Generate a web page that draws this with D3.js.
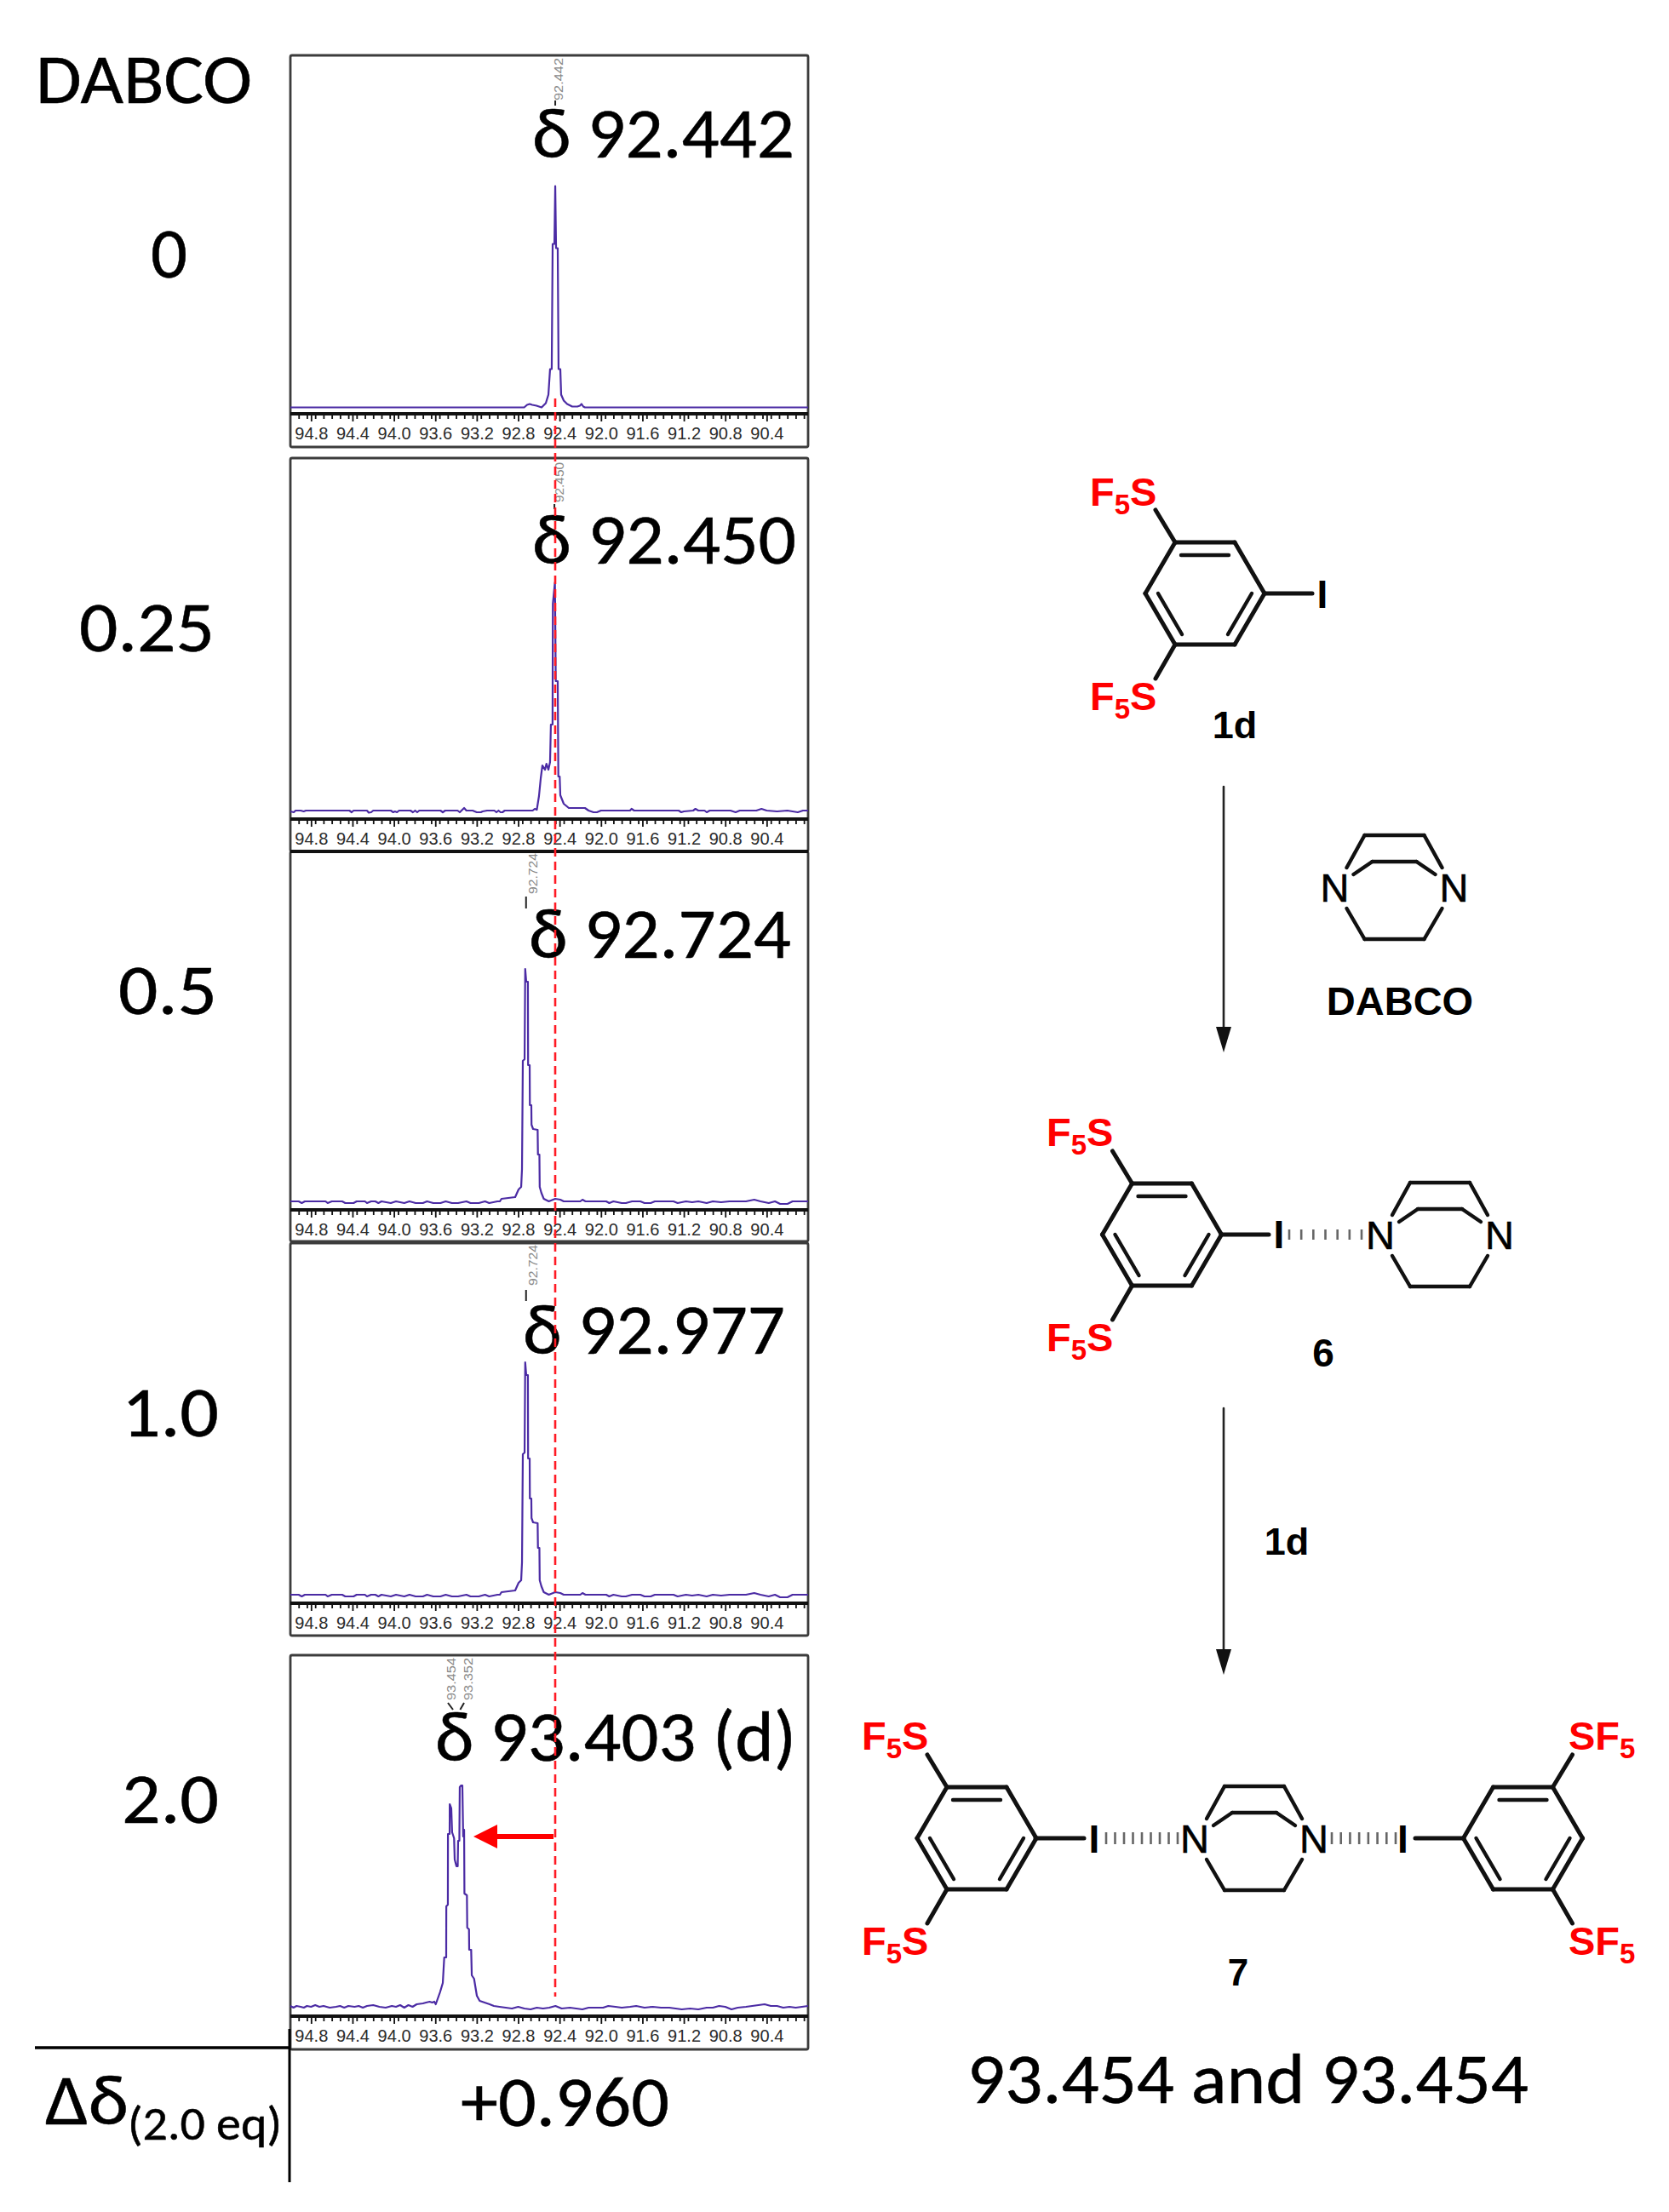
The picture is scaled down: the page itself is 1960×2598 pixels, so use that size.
<!DOCTYPE html>
<html><head><meta charset="utf-8">
<script src="https://cdn.jsdelivr.net/npm/d3@7"></script>
<style>html,body{margin:0;background:#fff}svg{display:block}</style></head>
<body><svg id="c" width="1960" height="2598"></svg>
<script>
// ---------- data: [ppm, intensity] ----------
const spectrum0 = [[95,0],[92.742,0],[92.714,3],[92.689,4],[92.664,3],[92.623,2],[92.574,0],[92.533,5],[92.508,15],[92.492,45],[92.476,45],[92.467,192],[92.450,192],[92.442,260],[92.434,187],[92.418,187],[92.410,45],[92.393,45],[92.385,15],[92.360,8],[92.327,4],[92.278,1],[92.229,1],[92.204,2],[92.188,4],[92.171,1],[92.155,0],[90,0]];
const spectrum025 = [[95,-1],[94.967,-2],[94.95,0],[94.9,0],[94.871,-1],[94.85,0],[94.43,0],[94.408,-2],[94.39,0],[94.26,0],[94.243,-2.5],[94.22,-2],[94.2,0],[94.03,0],[94.007,-2],[93.99,-1],[93.97,-2],[93.95,0],[93.84,0],[93.816,-2],[93.795,0],[93.775,-2],[93.755,0],[93.55,0],[93.528,-2],[93.505,0],[93.385,0],[93.364,-2],[93.322,3],[93.30,0],[93.24,0],[93.2,-2],[93.16,-2],[93.144,-1],[93.1,0],[93.03,0],[93.01,-2],[92.99,0],[92.97,-2],[92.952,-2],[92.93,0],[92.66,0],[92.64,2],[92.62,1],[92.599,17],[92.582,38],[92.566,53],[92.541,48],[92.527,55],[92.508,48],[92.492,57],[92.484,101],[92.468,101],[92.465,243],[92.445,268],[92.437,152],[92.418,152],[92.412,40],[92.399,40],[92.393,18],[92.360,8],[92.311,3],[92.155,3],[92.12,0],[92.072,-2],[92.04,-2],[92.0,0],[91.72,0],[91.705,2],[91.68,0],[91.25,0],[91.225,-2],[91.2,-1],[91.11,0],[91.088,2],[91.06,0],[91.0,0],[90.979,-2],[90.95,0],[90.75,0],[90.7,-2],[90.66,0],[90.5,0],[90.45,2],[90.4,0],[90.3,-1],[90.2,0],[90.1,-2],[90.05,0],[90,0]];
const spectrum05 = [[95,0],[94.92,0],[94.89,-2],[94.86,0],[94.66,0],[94.64,-2],[94.6,0],[94.5,0],[94.47,-2],[94.39,-2],[94.36,0],[94.28,0],[94.26,-2],[94.22,0],[94.18,0],[94.15,-2],[94.12,0],[94.03,-2],[93.98,0],[93.9,-2],[93.85,0],[93.79,-2],[93.72,-2],[93.68,0],[93.62,-2],[93.55,-2],[93.5,0],[93.44,-2],[93.38,-2],[93.3,0],[93.26,-2],[93.18,-2],[93.12,0],[93.08,-2],[93.0,0],[92.977,0],[92.961,3],[92.829,5],[92.796,14],[92.771,17],[92.763,38],[92.755,165],[92.738,167],[92.732,273],[92.722,258],[92.706,258],[92.704,160],[92.689,160],[92.687,113],[92.673,113],[92.671,90],[92.656,85],[92.612,84],[92.609,55],[92.595,55],[92.592,17],[92.576,10],[92.553,3],[92.504,0],[92.442,3],[92.393,2],[92.360,0],[92.2,0],[92.179,2],[92.15,0],[91.95,0],[91.92,-2],[91.88,0],[91.8,-2],[91.76,-2],[91.7,0],[91.62,0],[91.58,-2],[91.52,-2],[91.48,0],[91.3,0],[91.26,-2],[91.18,0],[91.12,-1],[91.06,0],[90.98,-2],[90.92,0],[90.84,-1],[90.76,0],[90.6,0],[90.52,2],[90.46,0],[90.38,-2],[90.32,0],[90.27,-3],[90.2,-3],[90.15,0],[90,0]];
const spectrum10 = spectrum05;
const spectrum20 = [[95,1],[94.97,-1],[94.94,1],[94.9,0],[94.87,-1],[94.84,1],[94.8,0],[94.76,2],[94.72,0],[94.68,1],[94.62,-1],[94.56,0],[94.52,1],[94.48,-1],[94.44,1],[94.38,0],[94.34,1],[94.3,-1],[94.26,1],[94.2,2],[94.14,0],[94.08,-1],[94.02,1],[93.98,0],[93.94,2],[93.9,-1],[93.86,2],[93.82,0],[93.78,3],[93.72,4],[93.69,5],[93.655,6],[93.63,5],[93.61,6],[93.596,3],[93.555,17],[93.528,28],[93.514,58],[93.495,58],[93.494,118],[93.479,120],[93.478,203],[93.462,203],[93.461,238],[93.446,233],[93.438,205],[93.419,198],[93.413,173],[93.396,165],[93.384,165],[93.380,195],[93.368,195],[93.364,258],[93.351,260],[93.339,260],[93.331,200],[93.322,208],[93.319,133],[93.295,131],[93.292,93],[93.275,91],[93.273,67],[93.254,67],[93.248,37],[93.226,33],[93.199,13],[93.172,7],[93.076,3],[93.035,1],[92.98,0],[92.92,-1],[92.86,-2],[92.8,0],[92.74,-2],[92.68,-3],[92.62,-1],[92.56,-2],[92.5,-1],[92.44,1],[92.38,-2],[92.3,-1],[92.24,-2],[92.18,-3],[92.12,-1],[92.05,-1],[91.98,-1],[91.93,1],[91.86,0],[91.8,-1],[91.72,0],[91.66,1],[91.58,-1],[91.5,0],[91.42,-1],[91.34,-1],[91.28,-2],[91.22,-3],[91.14,-2],[91.06,-3],[90.98,-1],[90.92,-1],[90.86,1],[90.8,0],[90.74,-3],[90.68,-1],[90.6,0],[90.54,1],[90.48,2],[90.42,3],[90.36,1],[90.3,1],[90.24,-1],[90.18,0],[90.12,-1],[90.06,0],[90,1]];
const spectra = [spectrum0, spectrum025, spectrum05, spectrum10, spectrum20];

const axisLabels = [94.8,94.4,94.0,93.6,93.2,92.8,92.4,92.0,91.6,91.2,90.8,90.4];
const minorTicks = d3.range(0,62).map(i=>+(94.92-i*0.08).toFixed(2));
const equivalents = ["0","0.25","0.5","1.0","2.0"];
const shiftLabels = ["δ 92.442","δ 92.450","δ 92.724","δ 92.977","δ 93.403 (d)"];
const pickedPeaks = [[92.442],[92.450],[92.724],[92.724],[93.454,93.352]];
const domainPpm = [95,90];

// ---------- layout ----------
const P = [
 {top:65,bottom:525,axis:486,base:478.5,eq:[180,217,326],lab:[628,930,185],pickY:[118,124],pickLab:[656],pickTop:68,ln:50},
 {top:538,bottom:1000,axis:962,base:952,eq:[96,249,765],lab:[628,932,662],pickY:[592,598],pickLab:[657],pickTop:543,ln:47},
 {top:1000,bottom:1458,axis:1421,base:1411,eq:[142,252,1191],lab:[624,926,1125],pickY:[1053,1067],pickLab:[626],pickTop:1002,ln:48},
 {top:1460,bottom:1921,axis:1883,base:1873,eq:[146,254,1687],lab:[617,919,1590],pickY:[1515,1528],pickLab:[626],pickTop:1462,ln:48},
 {top:1944,bottom:2407,axis:2368,base:2357,eq:[146,254,2141],lab:[514,932,2068],pickY:[2000,2008],pickLab:[530,550],pickTop:1947,ln:50},
];
const X0=341,X1=949,RED="#ff1a24",LINE="#4b2ba4",BODY='Carlito,Lato,"Open Sans",sans-serif',CHEM='"Liberation Sans",Arial,sans-serif';
const svg=d3.select("#c");
const x=d3.scaleLinear().domain(domainPpm).range([X0,X1]);

function big(t,x0,x1,y,size){
  return svg.append("text").attr("x",x0-3).attr("y",y).attr("font-family",BODY).attr("font-size",size).attr("fill","#000")
    .attr("stroke","#000").attr("stroke-width",.5)
    .attr("textLength",x1-x0+6).attr("lengthAdjust","spacingAndGlyphs").text(t);
}
P.forEach((p,i)=>{
  const g=svg.append("g");
  g.append("rect").attr("x",X0).attr("y",p.top).attr("width",X1-X0).attr("height",p.bottom-p.top)
    .attr("rx",2).attr("fill","#fff").attr("stroke","#3c3c3c").attr("stroke-width",2.8);
  const y=d3.scaleLinear().domain([0,260]).range([p.base,p.base-260]);
  g.append("path").datum(spectra[i]).attr("fill","none").attr("stroke",LINE).attr("stroke-width",2.2)
    .attr("stroke-linejoin","round").attr("d",d3.line().x(d=>x(d[0])).y(d=>y(d[1])));
  const minor=g.append("g").attr("transform",`translate(0,${p.axis})`)
    .call(d3.axisBottom(x).tickValues(minorTicks).tickSize(6).tickFormat(""));
  minor.select(".domain").remove(); minor.selectAll("line").attr("stroke","#111").attr("stroke-width",1.8);
  const major=g.append("g").attr("transform",`translate(0,${p.axis})`)
    .call(d3.axisBottom(x).tickValues(axisLabels).tickSize(9).tickPadding(6).tickFormat(d3.format(".1f")));
  major.select(".domain").remove();
  major.selectAll("line").attr("stroke","#111").attr("stroke-width",1.8);
  major.selectAll("text").attr("font-family",CHEM).attr("font-size",21).attr("fill","#2a2a2a").attr("textLength",39).attr("lengthAdjust","spacingAndGlyphs");
  g.append("line").attr("x1",X0).attr("x2",X1).attr("y1",p.axis).attr("y2",p.axis).attr("stroke","#111").attr("stroke-width",4);
  pickedPeaks[i].forEach((v,k)=>{
    const xp=x(v), xl=p.pickLab[k];
    g.append("text").attr("transform",`translate(${xl+5},${p.pickTop+p.ln}) rotate(-90)`)
      .attr("font-family",CHEM).attr("font-size",15).attr("fill","#8a8a8a").attr("textLength",p.ln).attr("lengthAdjust","spacingAndGlyphs")
      .text(v.toFixed(3));
    g.append("line").attr("x1",i==4?xl+(k==0?-4:-5):xp).attr("x2",i==4?xp+(k==0?3:-1):xp)
      .attr("y1",p.pickY[0]).attr("y2",p.pickY[1]).attr("stroke","#222").attr("stroke-width",2);
  });
  big(shiftLabels[i],p.lab[0],p.lab[1],p.lab[2],84);
  big(equivalents[i],p.eq[0],p.eq[1],p.eq[2],84);
});
svg.append("line").attr("x1",X0).attr("x2",X1).attr("y1",1000).attr("y2",1000).attr("stroke","#111").attr("stroke-width",4);

big("DABCO",45,293,121,82);
svg.append("line").attr("x1",41).attr("x2",341).attr("y1",2405).attr("y2",2405).attr("stroke","#000").attr("stroke-width",3.6);
svg.append("line").attr("x1",340).attr("x2",340).attr("y1",2383).attr("y2",2563).attr("stroke","#000").attr("stroke-width",3);
big("Δδ",56,148,2495,84);
big("(2.0 eq)",153,328,2513,56);
big("+0.960",544,783,2497,84);
big("93.454 and 93.454",1139,1792,2470,84);

// red reference
svg.append("line").attr("x1",652).attr("x2",652).attr("y1",468).attr("y2",2345).attr("stroke",RED).attr("stroke-width",2.6).attr("stroke-dasharray","10 6");
svg.append("path").attr("d","M650,2154 L584,2154 L584,2143 L556,2157 L584,2171 L584,2160 L650,2160 Z").attr("fill","#ff0000");

// ---------- structures ----------
const mol=svg.append("g").attr("stroke-linecap","round");
function seg(a,b,c,d,w=5,col="#111"){mol.append("line").attr("x1",a).attr("y1",b).attr("x2",c).attr("y2",d).attr("stroke",col).attr("stroke-width",w);}
function ring(cx,cy,dir){
  const o=[[-35,-60],[35,-60],[70,0],[35,60],[-35,60],[-70,0]];
  o.forEach((p,i)=>{const q=o[(i+1)%6];seg(cx+p[0],cy+p[1],cx+q[0],cy+q[1]);});
  [[-28,-45,28,-45],[55,0,27,48],[-55,0,-27,48]].forEach(s=>seg(cx+s[0],cy+s[1],cx+s[2],cy+s[3],4.4));
  seg(cx+dir*-35,cy-60,cx+dir*-58,cy-98);
  seg(cx+dir*-35,cy+60,cx+dir*-58,cy+100);
}
function cage(cx,cy){
  [[-35,-61,35,-61],[-35,-61,-56,-23],[35,-61,56,-23],[-26,-30,26,-30],[-26,-30,-48,-15],[26,-30,48,-15],[-35,61,35,61],[-35,61,-56,25],[35,61,56,25]]
   .forEach(s=>seg(cx+s[0],cy+s[1],cx+s[2],cy+s[3],4.4));
  chem("N",cx-70,cy+16.5,47,"#000","middle","normal").attr("stroke","#000").attr("stroke-width",.6);
  chem("N",cx+70,cy+16.5,47,"#000","middle","normal").attr("stroke","#000").attr("stroke-width",.6);
}
function chem(t,x,y,size,col,anchor,weight){
  return svg.append("text").attr("x",x).attr("y",y).attr("font-family",CHEM).attr("font-size",size).attr("font-weight",weight||"bold")
    .attr("fill",col||"#000").attr("text-anchor",anchor||"middle").text(t);
}
function f5s(x,y){const t=svg.append("text").attr("x",x-2).attr("y",y).attr("font-family",CHEM).attr("font-weight","bold").attr("font-size",47).attr("fill","#ff0000");
  t.append("tspan").text("F");t.append("tspan").attr("dy",10).attr("font-size",33).text("5");t.append("tspan").attr("dy",-10).text("S");}
function sf5(x,y){const t=svg.append("text").attr("x",x).attr("y",y).attr("font-family",CHEM).attr("font-weight","bold").attr("font-size",47).attr("fill","#ff0000");
  t.append("tspan").text("SF");t.append("tspan").attr("dy",10).attr("font-size",33).text("5");}
function hash(x0,x1,y,n,h){d3.range(n).forEach(i=>{const xx=x0+(x1-x0)*i/(n-1);mol.append("line").attr("x1",xx).attr("x2",xx).attr("y1",y-h/2).attr("y2",y+h/2).attr("stroke","#666").attr("stroke-width",2.6).attr("stroke-linecap","butt");});}
function arrow(xc,y0,y1){
  mol.append("line").attr("x1",xc).attr("x2",xc).attr("y1",y0).attr("y2",y1-20).attr("stroke","#222").attr("stroke-width",2.6);
  svg.append("path").attr("d",`M${xc-9},${y1-30} L${xc+9},${y1-30} L${xc},${y1} Z`).attr("fill","#111");
}
// 1d
ring(1415,697,1); seg(1485,697,1541,697);
chem("I",1553,714,46); f5s(1282,594); f5s(1282,834); chem("1d",1450,867,45);
arrow(1437,924,1236);
// DABCO
cage(1637.5,1042); chem("DABCO",1644,1192,47);
// 6
ring(1364.5,1450,1); seg(1434,1450,1490,1450); chem("I",1502,1466,46);
hash(1514,1599,1450,7,12); cage(1691,1450);
f5s(1231,1346); f5s(1231,1587); chem("6",1554,1605,46);
arrow(1437,1654,1967); chem("1d",1511,1826,45);
// 7
ring(1147,2159,1); seg(1216,2159,1273,2159); chem("I",1285,2176,46);
hash(1299,1383,2159,9,14); cage(1473,2159); hash(1564,1639,2159,8,14);
chem("I",1647.5,2176,46); seg(1662,2159,1719,2159); ring(1788.5,2159,-1);
f5s(1014,2055); f5s(1014,2296); sf5(1842,2055); sf5(1842,2296);
chem("7",1454,2332,44);
</script></body></html>
